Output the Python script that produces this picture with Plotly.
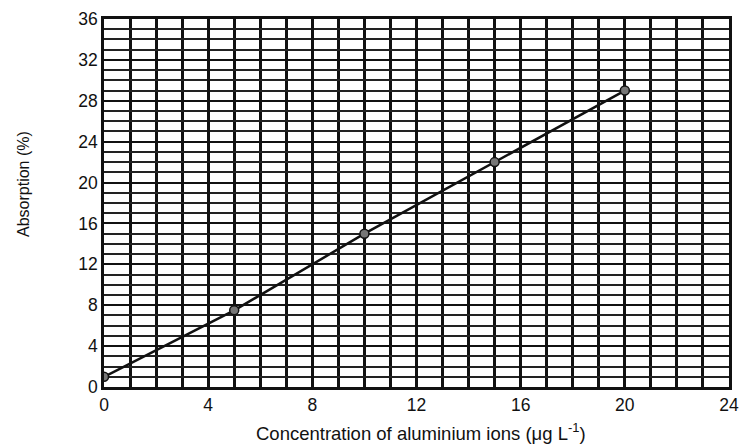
import plotly.graph_objects as go

concentration = [0, 5, 10, 15, 20]
absorption = [1, 7.5, 15, 22, 29]

fig = go.Figure()
fig.add_trace(go.Scatter(
    x=concentration, y=absorption, mode="lines+markers",
    line=dict(color="#111111", width=2.5),
    marker=dict(size=9, color="#777777", line=dict(color="#111111", width=1.5)),
    showlegend=False,
))

font = dict(family="Liberation Sans, Arial, sans-serif", color="#111111")
fig.update_layout(
    width=741, height=447,
    margin=dict(l=104, r=12, t=19, b=60),
    paper_bgcolor="white", plot_bgcolor="white",
    font=font,
)
fig.update_xaxes(
    range=[0, 24], dtick=4, tick0=0, automargin=False,
    showgrid=True, gridcolor="#111111", gridwidth=2.5,
    minor=dict(dtick=1, showgrid=True, gridcolor="#111111", gridwidth=2.5),
    showline=True, linecolor="#111111", linewidth=2.5, mirror=True,
    zeroline=False, ticks="", tickfont=dict(size=17.5),
)
fig.update_yaxes(
    range=[0, 36], dtick=4, tick0=0, automargin=False,
    showgrid=True, gridcolor="#111111", gridwidth=2,
    minor=dict(dtick=1, showgrid=True, gridcolor="#222222", gridwidth=1.6),
    showline=True, linecolor="#111111", linewidth=2.5, mirror=True,
    zeroline=False, ticks="", tickfont=dict(size=17.5),
)
fig.add_annotation(
    text="Concentration of aluminium ions (μg L<sup>-1</sup>)",
    xref="paper", yref="paper", x=(421 - 104) / 625, y=-(432 - 387) / 368,
    xanchor="center", yanchor="middle", showarrow=False,
    font=dict(size=18.5),
)
fig.add_annotation(
    text="Absorption (%)",
    xref="paper", yref="paper", x=-(104 - 23) / 625, y=(387 - 184) / 368,
    xanchor="center", yanchor="middle", showarrow=False, textangle=-90,
    font=dict(size=16),
)

fig.write_html("out.html")
